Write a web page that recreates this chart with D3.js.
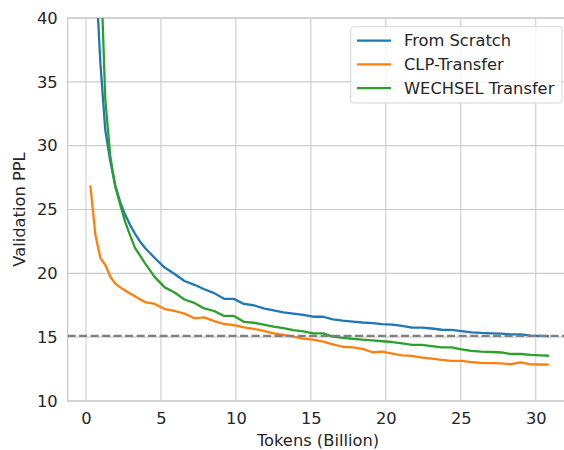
<!DOCTYPE html>
<html>
<head>
<meta charset="utf-8">
<script src="https://cdn.jsdelivr.net/npm/d3@7"></script>
<style>
  body { margin: 0; background: #fff; }
  text { font-family: "DejaVu Sans", sans-serif; fill: #262626; }
</style>
</head>
<body>
<svg id="chart" width="564" height="450"></svg>
<script>
// tokens seen (billions) at each evaluation step
var tokens = [0.3, 0.63, 0.96, 1.29, 1.62, 1.95, 2.28, 2.61, 2.94, 3.27, 3.6, 3.93,
	4.59, 5.25, 5.91, 6.57, 7.23, 7.89, 8.55, 9.21, 9.87, 10.53, 11.19, 11.85, 12.51,
	13.17, 13.83, 14.49, 15.15, 15.81, 16.47, 17.13, 17.79, 18.45, 19.11, 19.77, 20.43,
	21.09, 21.75, 22.41, 23.07, 23.73, 24.39, 25.05, 25.71, 26.37, 27.03, 27.69, 28.35,
	29.01, 29.67, 30.33, 30.8];

var fromScratch = [62, 44, 36.5, 31.2, 28.8, 26.9, 25.6, 24.6, 23.8, 23.1, 22.5, 22.0,
	21.2, 20.45, 19.95, 19.4, 19.1, 18.75, 18.45, 18.0, 18.0, 17.6, 17.5, 17.25, 17.1,
	16.95, 16.85, 16.75, 16.6, 16.6, 16.4, 16.3, 16.22, 16.15, 16.1, 16.02, 15.98,
	15.88, 15.74, 15.74, 15.68, 15.58, 15.57, 15.48, 15.38, 15.33, 15.3, 15.28, 15.22,
	15.22, 15.12, 15.1, 15.08];

var clpTransfer = [26.8, 23.0, 21.2, 20.65, 19.75, 19.2, 18.9, 18.65, 18.43, 18.2, 17.96, 17.75,
	17.6, 17.2, 17.05, 16.85, 16.48, 16.55, 16.26, 16.03, 15.95, 15.77, 15.65, 15.5, 15.3,
	15.17, 15.05, 14.88, 14.8, 14.65, 14.44, 14.25, 14.2, 14.08, 13.82, 13.86, 13.72,
	13.58, 13.53, 13.4, 13.32, 13.22, 13.14, 13.15, 13.05, 12.98, 12.96, 12.95, 12.88,
	13.02, 12.87, 12.86, 12.85];

var wechsel = [90, 65, 45, 33.6, 29.2, 26.8, 25.4, 24.05, 23.0, 22.0, 21.4, 20.8,
	19.7, 18.9, 18.5, 17.95, 17.68, 17.25, 17.05, 16.66, 16.66, 16.2, 16.13, 15.98, 15.82,
	15.7, 15.56, 15.45, 15.3, 15.3, 15.04, 14.95, 14.87, 14.8, 14.75, 14.68, 14.62,
	14.52, 14.39, 14.39, 14.3, 14.2, 14.2, 14.05, 13.92, 13.87, 13.84, 13.8, 13.68,
	13.68, 13.62, 13.58, 13.55];

var seriesNames = ["From Scratch", "CLP-Transfer", "WECHSEL Transfer"];
var seriesColors = ["#1f77b4", "#ff7f0e", "#2ca02c"];
var baselinePPL = 15.1;
var xTicks = [0, 5, 10, 15, 20, 25, 30];
var yTicks = [10, 15, 20, 25, 30, 35, 40];

(function() {
	var svg = d3.select("#chart");
	var pLeft = 67.6, pRight = 570.6, pTop = 18, pBottom = 401;
	var fontSize = "16.3px";

	var x = d3.scaleLinear().domain([-1.225, 32.325]).range([pLeft, pRight]);
	var y = d3.scaleLinear().domain([10, 40]).range([pBottom, pTop]);

	svg.append("defs").append("clipPath").attr("id", "plotClip")
		.append("rect")
		.attr("x", pLeft).attr("y", pTop)
		.attr("width", pRight - pLeft).attr("height", pBottom - pTop);

	// grid
	var grid = svg.append("g");
	grid.selectAll(".vg").data(xTicks).enter().append("line")
		.attr("x1", function(d) { return x(d); }).attr("x2", function(d) { return x(d); })
		.attr("y1", pTop).attr("y2", pBottom)
		.style("stroke", "#cccccc").style("stroke-width", 1.1);
	grid.selectAll(".hg").data(yTicks).enter().append("line")
		.attr("y1", function(d) { return y(d); }).attr("y2", function(d) { return y(d); })
		.attr("x1", pLeft).attr("x2", pRight)
		.style("stroke", "#cccccc").style("stroke-width", 1.1);

	// spines
	svg.append("rect")
		.attr("x", pLeft).attr("y", pTop)
		.attr("width", pRight - pLeft).attr("height", pBottom - pTop)
		.style("fill", "none").style("stroke", "#cccccc").style("stroke-width", 1.4);

	// axes (labels only, like seaborn whitegrid)
	var xAxis = svg.append("g")
		.attr("transform", "translate(0," + pBottom + ")")
		.call(d3.axisBottom(x).tickValues(xTicks).tickSize(0).tickPadding(11));
	var yAxis = svg.append("g")
		.attr("transform", "translate(" + pLeft + ",0)")
		.call(d3.axisLeft(y).tickValues(yTicks).tickSize(0).tickPadding(10));
	[xAxis, yAxis].forEach(function(a) {
		a.select(".domain").remove();
		a.selectAll("text").style("font-size", fontSize)
			.style("font-family", "DejaVu Sans, sans-serif").style("fill", "#262626");
	});

	svg.append("text")
		.attr("x", 318).attr("y", 446)
		.attr("text-anchor", "middle")
		.style("font-size", fontSize)
		.text("Tokens (Billion)");
	svg.append("text")
		.attr("transform", "translate(25," + ((pTop + pBottom) / 2) + ") rotate(-90)")
		.attr("text-anchor", "middle")
		.style("font-size", fontSize)
		.text("Validation PPL");

	// lines
	var plot = svg.append("g").attr("clip-path", "url(#plotClip)");
	var allSeries = [fromScratch, clpTransfer, wechsel];
	var line = d3.line()
		.x(function(d, i) { return x(tokens[i]); })
		.y(function(d) { return y(d); });

	allSeries.forEach(function(vals, k) {
		plot.append("path")
			.datum(vals)
			.attr("d", line)
			.style("fill", "none")
			.style("stroke", seriesColors[k])
			.style("stroke-width", 2.3)
			.style("stroke-linejoin", "round")
			.style("stroke-linecap", "square");
	});

	// baseline
	plot.append("line")
		.attr("x1", pLeft).attr("x2", pRight)
		.attr("y1", y(baselinePPL)).attr("y2", y(baselinePPL))
		.style("stroke", "#808080")
		.style("stroke-width", 2.2)
		.style("stroke-dasharray", "8,3.5");

	// legend
	var legend = svg.append("g");
	legend.append("rect")
		.attr("x", 350.7).attr("y", 26.7)
		.attr("width", 211.3).attr("height", 76.3)
		.attr("rx", 3)
		.style("fill", "#ffffff").style("fill-opacity", 0.8)
		.style("stroke", "#d6d6d6").style("stroke-width", 1);
	seriesNames.forEach(function(name, k) {
		var ly = 40.7 + k * 23.7;
		legend.append("line")
			.attr("x1", 357).attr("x2", 391)
			.attr("y1", ly).attr("y2", ly)
			.style("stroke", seriesColors[k]).style("stroke-width", 2.3);
		legend.append("text")
			.attr("x", 404).attr("y", ly)
			.attr("dy", "0.35em")
			.style("font-size", fontSize)
			.text(name);
	});
})();
</script>
</body>
</html>
